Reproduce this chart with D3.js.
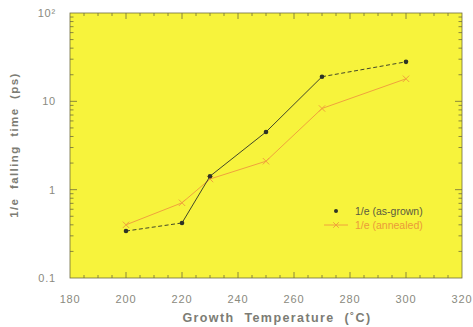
<!DOCTYPE html>
<meta charset="utf-8">
<style>
body { margin: 0; background: #fff; }
svg { font-family: "Liberation Sans", Arial, sans-serif; }
.tick-label { font-size: 11px; fill: #8a8a80; letter-spacing: 0.8px; }
.legend-label { font-size: 10.5px; }
.title { font-size: 12.5px; font-weight: bold; fill: #7c7c74; letter-spacing: 1.4px; word-spacing: 5px; }
</style>
<body>
<div id="chart"></div>
<script src="https://d3js.org/d3.v7.min.js"></script>
<script>
// data
var temps = [200, 220, 230, 250, 270, 300];
var asGrown = [0.34, 0.42, 1.42, 4.5, 19, 28];
var annealed = [0.40, 0.71, 1.32, 2.1, 8.3, 18];
var xTicks = [180, 200, 220, 240, 260, 280, 300, 320];
var yTicks = [0.1, 1, 10, 100];
var yTickText = ["0.1", "1", "10", "10²"];
var seriesNames = ["1/e (as-grown)", "1/e (annealed)"];

var W = 473, H = 327;
var margin = { top: 13, right: 11, bottom: 49, left: 70 },
    width = W - margin.left - margin.right,
    height = H - margin.top - margin.bottom;

var svg = d3.select("#chart").append("svg")
    .attr("width", W).attr("height", H);
var g = svg.append("g")
    .attr("transform", "translate(" + margin.left + "," + margin.top + ")");

var x = d3.scaleLinear().domain([180, 320]).range([0, width]);
var y = d3.scaleLog().domain([0.1, 100]).range([height, 0]);

var axisCol = "#6e6c3c";

g.append("rect")
    .attr("width", width).attr("height", height)
    .attr("fill", "#f7f33c");

// frame
g.append("rect")
    .attr("width", width).attr("height", height)
    .attr("fill", "none").attr("stroke", axisCol).attr("stroke-width", 0.8);

// x ticks, inside, bottom and top
var xMinor = d3.range(185, 320, 5).filter(function(v) { return xTicks.indexOf(v) < 0; });
[0, height].forEach(function(y0) {
    var dir = y0 === 0 ? 1 : -1;
    g.selectAll(null).data(xTicks.slice(1, -1)).enter().append("line")
        .attr("x1", x).attr("x2", x)
        .attr("y1", y0).attr("y2", y0 + dir * 6)
        .attr("stroke", axisCol).attr("stroke-width", 0.8);
    g.selectAll(null).data(xMinor).enter().append("line")
        .attr("x1", x).attr("x2", x)
        .attr("y1", y0).attr("y2", y0 + dir * 3)
        .attr("stroke", axisCol).attr("stroke-width", 0.8);
});

// y ticks, inside, left and right
var yMinor = [];
[0.1, 1, 10].forEach(function(d) {
    for (var k = 2; k < 10; k++) yMinor.push(d * k);
});
[0, width].forEach(function(x0) {
    var dir = x0 === 0 ? 1 : -1;
    g.selectAll(null).data(yTicks.slice(1, -1)).enter().append("line")
        .attr("y1", y).attr("y2", y)
        .attr("x1", x0).attr("x2", x0 + dir * 7)
        .attr("stroke", axisCol).attr("stroke-width", 0.8);
    g.selectAll(null).data(yMinor).enter().append("line")
        .attr("y1", y).attr("y2", y)
        .attr("x1", x0).attr("x2", x0 + dir * 3.5)
        .attr("stroke", axisCol).attr("stroke-width", 0.8);
});

// tick labels
g.selectAll(null).data(xTicks).enter().append("text")
    .attr("class", "tick-label")
    .attr("x", x).attr("y", height + 25)
    .attr("text-anchor", "middle")
    .text(function(d) { return d; });

g.selectAll(null).data(yTicks).enter().append("text")
    .attr("class", "tick-label")
    .attr("x", -14).attr("y", function(d) { return y(d) + 4; })
    .attr("text-anchor", "end")
    .text(function(d, i) { return yTickText[i]; });

// axis titles
svg.append("text").attr("class", "title")
    .attr("x", 277).attr("y", 322)
    .attr("text-anchor", "middle")
    .text("Growth Temperature (˚C)");

svg.append("text").attr("class", "title")
    .attr("transform", "translate(18,145) rotate(-90)")
    .attr("text-anchor", "middle")
    .style("font-size", "11.5px")
    .style("word-spacing", "4px")
    .text("1/e falling time (ps)");

// annealed series (orange)
var orange = "#f0a23c";
var line = d3.line().x(function(d) { return x(d[0]); }).y(function(d) { return y(d[1]); });
var annPts = temps.map(function(t, i) { return [t, annealed[i]]; });
var grownPts = temps.map(function(t, i) { return [t, asGrown[i]]; });

g.append("path").datum(annPts)
    .attr("d", line).attr("fill", "none")
    .attr("stroke", orange).attr("stroke-width", 1);

function crossPath(cx, cy, s) {
    return "M" + (cx - s) + "," + (cy - s) + "L" + (cx + s) + "," + (cy + s) +
           "M" + (cx - s) + "," + (cy + s) + "L" + (cx + s) + "," + (cy - s);
}
g.selectAll(null).data(annPts).enter().append("path")
    .attr("d", function(d) { return crossPath(x(d[0]), y(d[1]), 3.2); })
    .attr("stroke", orange).attr("stroke-width", 1);

// as-grown series (black), first and last segments dashed
var black = "#2e3326";
var dashedSeg = [0, 4];
d3.pairs(grownPts).forEach(function(p, i) {
    g.append("path").datum(p)
        .attr("d", line).attr("fill", "none")
        .attr("stroke", black).attr("stroke-width", 0.9)
        .attr("stroke-dasharray", dashedSeg.indexOf(i) >= 0 ? "4,2.5" : null);
});
g.selectAll(null).data(grownPts).enter().append("circle")
    .attr("cx", function(d) { return x(d[0]); })
    .attr("cy", function(d) { return y(d[1]); })
    .attr("r", 2.3).attr("fill", black);

// legend
var lx = 336, ly = 211;
svg.append("circle").attr("cx", lx).attr("cy", ly).attr("r", 2).attr("fill", black);
svg.append("text").attr("class", "legend-label")
    .attr("x", 355).attr("y", ly + 4).style("fill", "#5a5a40")
    .text(seriesNames[0]);
svg.append("line")
    .attr("x1", lx - 12).attr("x2", lx + 12).attr("y1", ly + 14).attr("y2", ly + 14)
    .attr("stroke", orange).attr("stroke-width", 1);
svg.append("path")
    .attr("d", crossPath(lx, ly + 14, 2.8))
    .attr("stroke", orange).attr("stroke-width", 1);
svg.append("text").attr("class", "legend-label")
    .attr("x", 355).attr("y", ly + 18).style("fill", "#eb9a3a")
    .text(seriesNames[1]);
</script>
